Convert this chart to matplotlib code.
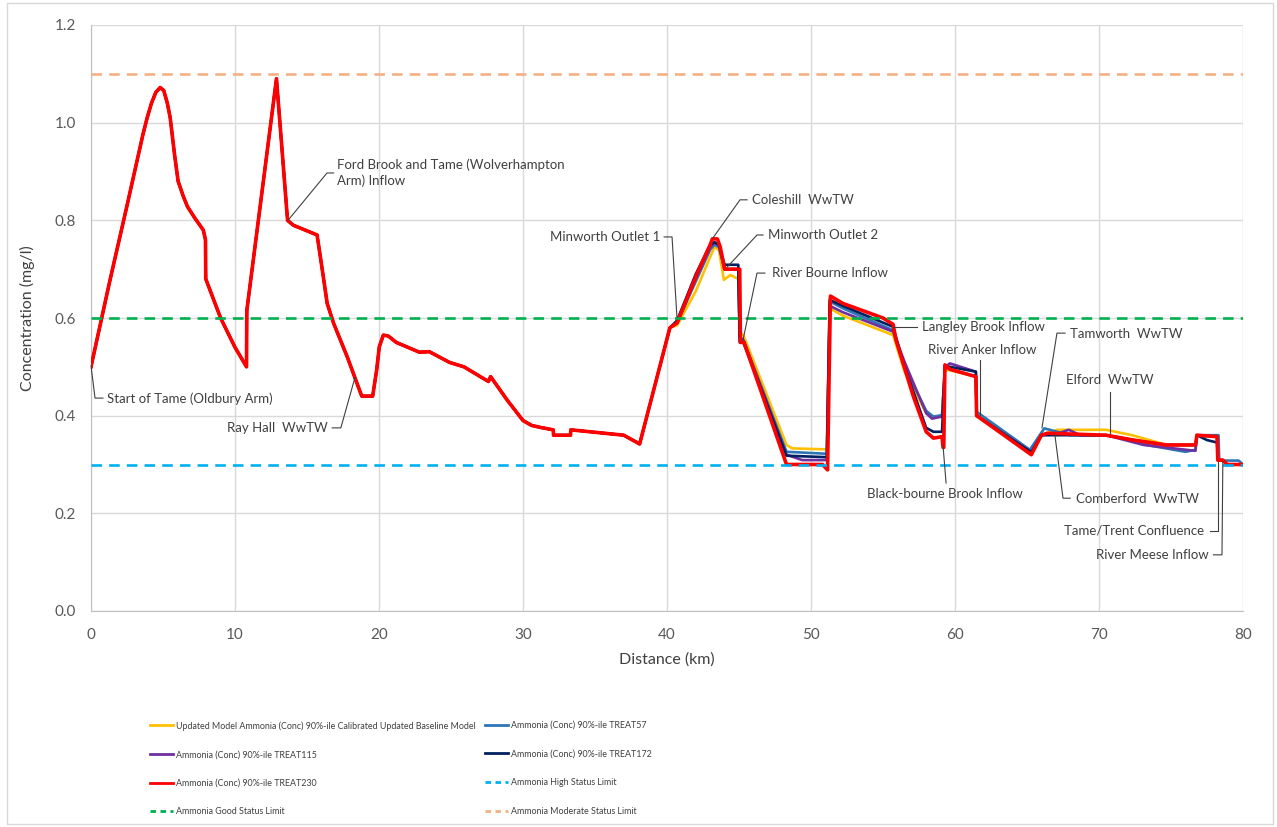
import matplotlib
matplotlib.use("Agg")
import matplotlib.pyplot as plt
from matplotlib.lines import Line2D
from matplotlib.patches import Rectangle

# ---------------- data ----------------
# Upstream of Minworth all five scenarios coincide
upstream_km = [0.0, 1.3, 2.5, 3.6, 3.9, 4.2, 4.5, 4.8, 5.05, 5.3, 5.5, 5.8, 6.05, 6.4, 6.7, 7.2,
               7.8, 7.95, 7.97, 9.0, 10.0, 10.8, 10.82, 12.88, 13.65, 14.05, 15.7, 16.13, 16.4,
               16.85, 17.8, 18.8, 19.56, 19.84, 20.02, 20.3, 20.65, 21.2, 22.8, 23.5, 24.9, 25.9,
               27.6, 27.75, 28.9, 30.0, 30.6, 31.2, 32.1, 32.12, 33.3, 33.32, 37.0, 38.1]
upstream_conc = [0.50, 0.675, 0.83, 0.975, 1.01, 1.04, 1.062, 1.072, 1.066, 1.04, 1.01, 0.935,
                 0.88, 0.85, 0.828, 0.805, 0.78, 0.76, 0.68, 0.60, 0.54, 0.50, 0.615, 1.09,
                 0.80, 0.79, 0.77, 0.685, 0.63, 0.589, 0.52, 0.44, 0.44, 0.494, 0.541, 0.565,
                 0.563, 0.55, 0.53, 0.531, 0.509, 0.50, 0.47, 0.48, 0.432, 0.39, 0.38, 0.376,
                 0.371, 0.36, 0.36, 0.371, 0.36, 0.342]

baseline_km = [40.2, 40.7, 42.0, 43.0, 43.3, 43.6, 43.95, 44.4, 44.8, 45.0, 45.05, 45.3, 48.3,
               48.7, 51.1, 51.3, 52.2, 55.7, 56.5, 58.0, 58.5, 59.1, 59.3, 59.5, 61.45, 61.5,
               65.3, 66.0, 67.1, 70.5, 72.3, 74.7, 76.7, 76.8, 78.2, 78.25, 78.6, 78.9, 80.0]
baseline_conc = [0.58, 0.585, 0.655, 0.725, 0.745, 0.74, 0.678, 0.688, 0.682, 0.68, 0.57, 0.565,
                 0.34, 0.333, 0.331, 0.62, 0.605, 0.565, 0.49, 0.405, 0.398, 0.40, 0.49, 0.494,
                 0.48, 0.405, 0.325, 0.36, 0.371, 0.371, 0.36, 0.34, 0.34, 0.36, 0.357, 0.309,
                 0.309, 0.30, 0.30]

treat57_km = [40.2, 40.7, 42.0, 43.0, 43.3, 43.6, 44.0, 44.95, 45.05, 45.3, 48.3, 51.1, 51.3,
              52.2, 55.7, 56.5, 58.0, 58.5, 59.1, 59.3, 59.65, 61.45, 61.5, 65.2, 66.2, 67.1,
              68.0, 70.5, 72.4, 73.3, 76.0, 76.7, 76.8, 78.3, 78.35, 79.7, 80.0]
treat57_conc = [0.58, 0.59, 0.675, 0.74, 0.75, 0.745, 0.70, 0.70, 0.56, 0.555, 0.326, 0.322,
                0.634, 0.62, 0.575, 0.50, 0.41, 0.398, 0.401, 0.50, 0.495, 0.48, 0.408, 0.33,
                0.374, 0.367, 0.36, 0.36, 0.35, 0.34, 0.326, 0.33, 0.36, 0.36, 0.308, 0.308, 0.30]

treat115_km = [40.2, 40.7, 42.0, 43.0, 43.3, 43.6, 44.0, 44.95, 45.05, 45.3, 48.3, 49.4, 51.1,
               51.3, 52.2, 55.7, 56.5, 58.0, 58.4, 59.1, 59.3, 59.65, 61.45, 61.5, 65.3, 66.0,
               67.3, 67.9, 68.7, 70.5, 73.1, 76.7, 76.8, 78.2, 78.25, 78.6, 78.9, 80.0]
treat115_conc = [0.58, 0.59, 0.68, 0.745, 0.755, 0.75, 0.70, 0.70, 0.56, 0.555, 0.32, 0.309,
                 0.309, 0.625, 0.612, 0.572, 0.51, 0.405, 0.394, 0.398, 0.50, 0.507, 0.49, 0.40,
                 0.325, 0.36, 0.365, 0.371, 0.36, 0.36, 0.34, 0.328, 0.36, 0.357, 0.309, 0.309,
                 0.30, 0.30]

treat172_km = [40.2, 40.7, 42.0, 43.0, 43.3, 43.6, 44.0, 44.95, 45.05, 45.3, 48.3, 51.1, 51.3,
               52.2, 55.7, 56.5, 58.0, 58.5, 59.1, 59.3, 59.65, 61.45, 61.5, 65.3, 66.0, 70.5,
               72.4, 74.7, 76.7, 76.8, 77.5, 78.2, 78.25, 78.6, 78.9, 80.0]
treat172_conc = [0.58, 0.595, 0.69, 0.75, 0.755, 0.75, 0.709, 0.709, 0.55, 0.55, 0.318, 0.315,
                 0.637, 0.625, 0.582, 0.50, 0.375, 0.367, 0.367, 0.50, 0.50, 0.49, 0.40, 0.325,
                 0.36, 0.36, 0.35, 0.34, 0.34, 0.36, 0.35, 0.345, 0.309, 0.309, 0.30, 0.30]

treat230_km = [40.2, 40.7, 42.1, 43.0, 43.15, 43.5, 43.7, 44.0, 44.2, 45.05, 45.1, 45.35, 48.3,
               50.8, 51.15, 51.35, 52.2, 55.0, 55.7, 55.9, 57.1, 58.0, 58.5, 59.1, 59.17, 59.22,
               59.3, 59.65, 61.45, 61.5, 65.3, 66.0, 66.4, 70.5, 72.4, 74.7, 76.7, 76.8, 78.2,
               78.25, 78.6, 78.9, 80.0]
treat230_conc = [0.58, 0.59, 0.692, 0.75, 0.762, 0.762, 0.745, 0.70, 0.70, 0.70, 0.55, 0.55,
                 0.30, 0.30, 0.289, 0.645, 0.63, 0.60, 0.587, 0.555, 0.44, 0.367, 0.354, 0.357,
                 0.335, 0.335, 0.504, 0.495, 0.48, 0.40, 0.32, 0.36, 0.364, 0.36, 0.35, 0.34,
                 0.34, 0.36, 0.357, 0.309, 0.309, 0.30, 0.30]

series_labels = [
    "Updated Model Ammonia (Conc) 90%-ile Calibrated Updated Baseline Model",
    "Ammonia (Conc) 90%-ile TREAT57",
    "Ammonia (Conc) 90%-ile TREAT115",
    "Ammonia (Conc) 90%-ile TREAT172",
    "Ammonia (Conc) 90%-ile TREAT230",
]
series_colors = ["#FFC000", "#2E75B6", "#7030A0", "#002060", "#FF0000"]

limit_labels = ["Ammonia High Status Limit", "Ammonia Good Status Limit",
                "Ammonia Moderate Status Limit"]
limit_values = [0.3, 0.6, 1.1]
limit_colors = ["#00B0F0", "#00B050", "#F4B183"]

x_ticks = [0, 10, 20, 30, 40, 50, 60, 70, 80]
y_ticks = [0.0, 0.2, 0.4, 0.6, 0.8, 1.0, 1.2]

# label, leader path (data coords), text position, ha, va
annotations = [
    ("Start of Tame (Oldbury Arm)", [(0.0, 0.502), (0.28, 0.436), (0.83, 0.436)], (1.09, 0.434), "left", "center"),
    ("Ray Hall  WwTW", [(18.33, 0.478), (17.35, 0.375), (16.75, 0.375)], (16.45, 0.375), "right", "center"),
    ("Ford Brook and Tame (Wolverhampton\nArm) Inflow", [(13.68, 0.80), (16.39, 0.897), (16.85, 0.897)], (17.1, 0.897), "left", "center"),
    ("Minworth Outlet 1", [(40.69, 0.602), (40.35, 0.766), (39.8, 0.766)], (39.5, 0.766), "right", "center"),
    ("Coleshill  WwTW", [(43.19, 0.764), (45.07, 0.842), (45.56, 0.842)], (45.9, 0.842), "left", "center"),
    ("Minworth Outlet 2", [(44.17, 0.704), (46.25, 0.770), (46.67, 0.770)], (47.0, 0.770), "left", "center"),
    ("River Bourne Inflow", [(45.28, 0.555), (46.25, 0.692), (46.8, 0.692)], (47.3, 0.692), "left", "center"),
    ("Langley Brook Inflow", [(55.69, 0.582), (57.36, 0.582)], (57.7, 0.582), "left", "center"),
    ("River Anker Inflow", [(61.74, 0.401), (61.74, 0.514)], (58.1, 0.534), "left", "center"),
    ("Black-bourne Brook Inflow", [(59.17, 0.338), (59.38, 0.262)], (59.3, 0.240), "center", "center"),
    ("Tamworth  WwTW", [(66.04, 0.375), (67.08, 0.569), (67.64, 0.569)], (68.0, 0.567), "left", "center"),
    ("Elford  WwTW", [(70.76, 0.365), (70.76, 0.449)], (70.76, 0.473), "center", "center"),
    ("Comberford  WwTW", [(66.94, 0.36), (67.5, 0.231), (68.0, 0.231)], (68.4, 0.229), "left", "center"),
    ("Tame/Trent Confluence", [(78.26, 0.305), (78.26, 0.164), (77.7, 0.164)], (77.3, 0.164), "right", "center"),
    ("River Meese Inflow", [(78.6, 0.305), (78.54, 0.115), (77.95, 0.115)], (77.6, 0.115), "right", "center"),
]

# ---------------- figure ----------------
plt.rcParams["font.family"] = ["Lato", "DejaVu Sans"]
W, H = 1277, 827
fig = plt.figure(figsize=(W / 100, H / 100), dpi=100)
fig.patches.append(Rectangle((7 / W, 1 - 824 / H), (1273 - 7) / W, (824 - 3) / H,
                             transform=fig.transFigure, fill=False,
                             edgecolor="#D9D9D9", lw=1.0))
ax = fig.add_axes([91 / W, 1 - 611 / H, (1243 - 91) / W, (611 - 25) / H])

all_km = [upstream_km + baseline_km, upstream_km + treat57_km, upstream_km + treat115_km,
          upstream_km + treat172_km, upstream_km + treat230_km]
all_conc = [upstream_conc + baseline_conc, upstream_conc + treat57_conc,
            upstream_conc + treat115_conc, upstream_conc + treat172_conc,
            upstream_conc + treat230_conc]
widths = [1.9, 1.9, 1.9, 1.9, 2.6]
for km, conc, col, lw, lab in zip(all_km, all_conc, series_colors, widths, series_labels):
    ax.plot(km, conc, color=col, lw=lw, solid_joinstyle="round", label=lab, zorder=3)

for val, col, lab in zip(limit_values, limit_colors, limit_labels):
    ax.axhline(val, color=col, lw=1.9, dashes=(4.0, 2.7), zorder=4, label=lab)

ax.set_xlim(0, 80)
ax.set_ylim(0, 1.2)
ax.set_xticks(x_ticks)
ax.set_yticks(y_ticks)
ax.set_yticklabels([f"{v:.1f}" for v in y_ticks])
ax.grid(True, color="#D9D9D9", lw=1.0, zorder=0)
ax.set_axisbelow(True)
for s in ["top", "right"]:
    ax.spines[s].set_visible(False)
for s in ["left", "bottom"]:
    ax.spines[s].set_color("#BFBFBF")
ax.tick_params(length=0, labelsize=11, colors="#595959")
ax.tick_params(axis="y", pad=11)
ax.tick_params(axis="x", pad=12)
ax.set_xlabel("Distance (km)", fontsize=11.5, color="#404040", labelpad=8)
ax.set_ylabel("Concentration (mg/l)", fontsize=11.5, color="#404040", labelpad=14)

for text, path, tpos, ha, va in annotations:
    xs = [p[0] for p in path]
    ys = [p[1] for p in path]
    ax.plot(xs, ys, color="#404040", lw=0.8, zorder=5, clip_on=False)
    ax.text(tpos[0], tpos[1], text, ha=ha, va=va, fontsize=9.5, color="#404040",
            linespacing=1.3, zorder=6)

# ---------------- legend (two columns, row-major as in the reference) ----------------
def handle(col, lw, dashed):
    if dashed:
        return Line2D([], [], color=col, lw=lw, dashes=(2.0, 1.6))
    return Line2D([], [], color=col, lw=lw)

col1 = [(handle(series_colors[0], 2.0, False), series_labels[0]),
        (handle(series_colors[2], 2.0, False), series_labels[2]),
        (handle(series_colors[4], 2.0, False), series_labels[4]),
        (handle(limit_colors[1], 2.0, True), limit_labels[1])]
col2 = [(handle(series_colors[1], 2.0, False), series_labels[1]),
        (handle(series_colors[3], 2.0, False), series_labels[3]),
        (handle(limit_colors[0], 2.0, True), limit_labels[0]),
        (handle(limit_colors[2], 2.0, True), limit_labels[2])]

leg_font = {"family": ["Lato", "DejaVu Sans"], "size": 6.4}
for items, x0 in [(col1, 150), (col2, 485)]:
    leg = fig.legend([h for h, _ in items], [t for _, t in items],
                     loc="upper left", bbox_to_anchor=(x0 / W, 1 - 721 / H),
                     frameon=False, prop=leg_font, handlelength=2.6,
                     handletextpad=0.35, labelspacing=2.2, borderpad=0,
                     borderaxespad=0)
    for t in leg.get_texts():
        t.set_color("#404040")

fig.savefig("out.png", dpi=100)
